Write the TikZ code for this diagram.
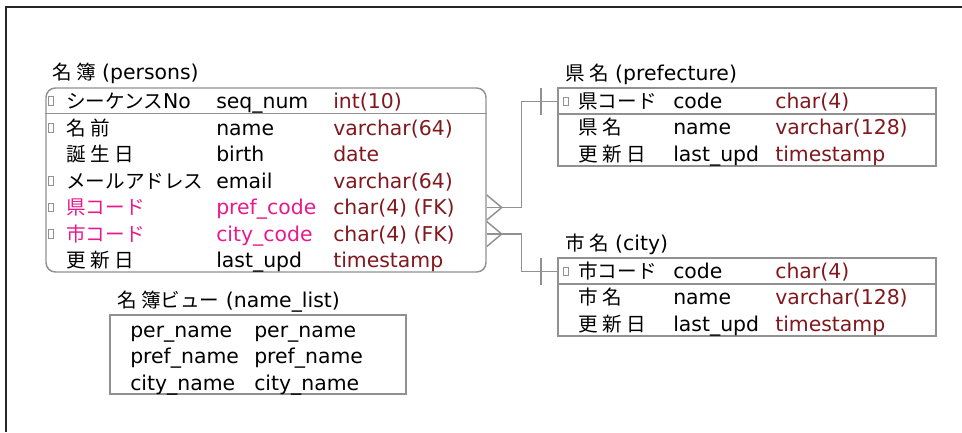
\documentclass[tikz,border=0pt]{standalone}
\usepackage{fontspec}
\setmainfont{DejaVu Sans}
\newfontfamily\jp{Noto Sans CJK JP}[Scale=0.96]
\newfontfamily\jpk{Noto Sans CJK JP}[Scale=0.96,LetterSpace=22]
\usetikzlibrary{fit}
\definecolor{TypeRed}{RGB}{128,24,30}
\definecolor{FKPink}{RGB}{232,25,139}
\definecolor{LineGray}{RGB}{145,145,145}

\begin{document}
\begin{tikzpicture}[x=0.75pt,y=-0.75pt,
  font=\fontsize{15.3pt}{18pt}\selectfont,
  txt/.style={anchor=base west, inner sep=0pt},
  typ/.style={txt, TypeRed},
  fk/.style={txt, FKPink},
  tbl/.style={draw=LineGray, line width=1.1pt, inner sep=0pt, fit={#1}},
  pk/.style={draw=LineGray, line width=0.6pt, inner sep=0pt, minimum width=3.5pt, minimum height=6.5pt},
  rel/.style={draw=LineGray, line width=1.1pt}]
\useasboundingbox (0,0) rectangle (962,432);
\draw[line width=1.5pt, black!85] (6,432) -- (6,7) -- (962,7);

% persons
\node[txt] (ptitle) at (52,79) {{\jpk 名簿} (persons)};
\node[tbl={(46,88) (486,272)}, rounded corners=7pt] (persons) {};
\draw[rel] (persons.west |- 0,113.5) -- (persons.east |- 0,113.5);
\node[pk] (pk1) at (51,101) {};
\node[txt] (p1n) at (66,108) {{\jp シーケンス}No};
\node[txt] (p1c) at (216,108) {seq\_num};
\node[typ] (p1t) at (333,108) {int(10)};
\node[pk] (pk2) at (51,128) {};
\node[txt] (p2n) at (66,135) {{\jpk 名前}};
\node[txt] (p2c) at (216,135) {name};
\node[typ] (p2t) at (333,135) {varchar(64)};
\node[txt] (p3n) at (66,161.5) {{\jpk 誕生日}};
\node[txt] (p3c) at (216,161.5) {birth};
\node[typ] (p3t) at (333,161.5) {date};
\node[pk] (pk4) at (51,181) {};
\node[txt] (p4n) at (66,188) {{\jp メールアドレス}};
\node[txt] (p4c) at (216,188) {email};
\node[typ] (p4t) at (333,188) {varchar(64)};
\node[pk] (pk5) at (51,207.5) {};
\node[fk] (p5n) at (66,214.5) {{\jpk 県}{\jp コード}};
\node[fk] (p5c) at (216,214.5) {pref\_code};
\node[typ] (p5t) at (333,214.5) {char(4) (FK)};
\node[pk] (pk6) at (51,234) {};
\node[fk] (p6n) at (66,241) {{\jpk 市}{\jp コード}};
\node[fk] (p6c) at (216,241) {city\_code};
\node[typ] (p6t) at (333,241) {char(4) (FK)};
\node[txt] (p7n) at (66,267.5) {{\jpk 更新日}};
\node[txt] (p7c) at (216,267.5) {last\_upd};
\node[typ] (p7t) at (333,267.5) {timestamp};

% prefecture
\node[txt] (rtitle) at (565,80) {{\jpk 県名} (prefecture)};
\node[tbl={(558,88) (936,166)}] (pref) {};
\draw[rel] (pref.west |- 0,114) -- (pref.east |- 0,114);
\node[pk] (rk1) at (566,101.5) {};
\node[txt] (r1n) at (578,108) {{\jpk 県}{\jp コード}};
\node[txt] (r1c) at (673,108) {code};
\node[typ] (r1t) at (775,108) {char(4)};
\node[txt] (r2n) at (578,134.5) {{\jpk 県名}};
\node[txt] (r2c) at (673,134.5) {name};
\node[typ] (r2t) at (775,134.5) {varchar(128)};
\node[txt] (r3n) at (578,161) {{\jpk 更新日}};
\node[txt] (r3c) at (673,161) {last\_upd};
\node[typ] (r3t) at (775,161) {timestamp};

% city
\node[txt] (ctitle) at (565,250) {{\jpk 市名} (city)};
\node[tbl={(558,258) (936,336)}] (city) {};
\draw[rel] (city.west |- 0,284) -- (city.east |- 0,284);
\node[pk] (ck1) at (566,271.5) {};
\node[txt] (c1n) at (578,278) {{\jpk 市}{\jp コード}};
\node[txt] (c1c) at (673,278) {code};
\node[typ] (c1t) at (775,278) {char(4)};
\node[txt] (c2n) at (578,304.5) {{\jpk 市名}};
\node[txt] (c2c) at (673,304.5) {name};
\node[typ] (c2t) at (775,304.5) {varchar(128)};
\node[txt] (c3n) at (578,331) {{\jpk 更新日}};
\node[txt] (c3c) at (673,331) {last\_upd};
\node[typ] (c3t) at (775,331) {timestamp};

% name_list view
\node[txt] (vtitle) at (117,307) {{\jpk 名簿}{\jp ビュー} (name\_list)};
\node[tbl={(110,315) (406,394)}] (view) {};
\node[txt] (v1a) at (130,337) {per\_name};
\node[txt] (v1b) at (254,337) {per\_name};
\node[txt] (v2a) at (130,363.5) {pref\_name};
\node[txt] (v2b) at (254,363.5) {pref\_name};
\node[txt] (v3a) at (130,390) {city\_name};
\node[txt] (v3b) at (254,390) {city\_name};

% relations
\begin{scope}[rel]
    \draw (persons.east |- pk5) -- ++(35,0) |- (pref.west |- rk1);
    \draw (persons.east |- pk5) ++(0,-12.5) -- ++(15,12.5) -- ++(-15,12.5);
    \draw (pref.west |- rk1) ++(-16.5,-13.5) -- ++(0,27);
    \draw (persons.east |- pk6) -- ++(35,0) |- (city.west |- ck1);
    \draw (persons.east |- pk6) ++(0,-12.5) -- ++(15,12.5) -- ++(-15,12.5);
    \draw (city.west |- ck1) ++(-16.5,-13.5) -- ++(0,27);
\end{scope}
\end{tikzpicture}
\end{document}
